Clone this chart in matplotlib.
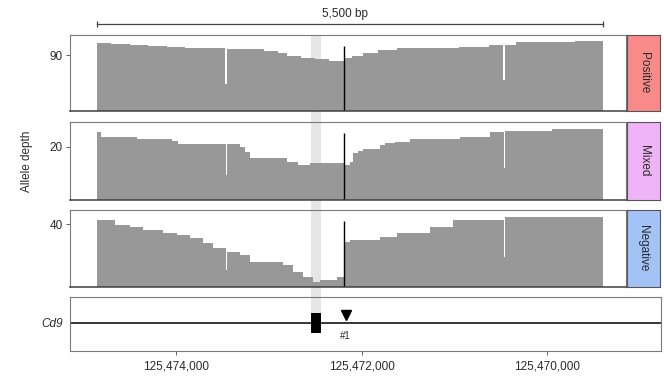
import matplotlib
matplotlib.use('Agg')
import matplotlib.pyplot as plt
from matplotlib.patches import Rectangle
from matplotlib.transforms import blended_transform_factory

plt.rcParams['font.family'] = ['Liberation Sans', 'DejaVu Sans']

# ---- data -------------------------------------------------------------
groups = ['Positive', 'Mixed', 'Negative']
strip_colors = ['#f88a8a', '#efb3f7', '#a3c3f7']
yticks = [90, 20, 40]
ytops = [122.2, 29.3, 49.1]

pos_positive = [125474850, 125474700, 125474500, 125474300, 125474100, 125473900,
                125473700, 125473470, 125473455, 125473250, 125473050, 125472900,
                125472800, 125472650, 125472500, 125472350, 125472190, 125472100,
                125471980, 125471820, 125471620, 125471300, 125470950, 125470620,
                125470470, 125470455, 125470330, 125469950, 125469700, 125469396]
depth_positive = [109, 107, 105.5, 104, 102.5, 101.5,
                  100.5, 43, 100, 99, 96, 93,
                  89, 86, 83, 80, 84.7, 89,
                  93, 97.5, 100.5, 101.8, 103.4, 105.5,
                  50, 106, 110.4, 111.4, 112, 112]

pos_mixed = [125474850, 125474810, 125474420, 125474040, 125473980, 125473465,
             125473450, 125473310, 125473255, 125473200, 125472800, 125472685,
             125472555, 125472340, 125472190, 125472125, 125472090, 125472040,
             125471985, 125471800, 125471745, 125471640, 125471475, 125470940,
             125470615, 125470465, 125470455, 125469945, 125469396]
depth_mixed = [25.6, 23.8, 22.8, 22.1, 21.0, 9.4,
               21.0, 20.0, 18.1, 15.9, 14.1, 13.1,
               14.0, 13.8, 13.1, 14.4, 17.5, 18.5,
               19.0, 20.6, 21.3, 21.9, 22.8, 23.8,
               25.6, 11.9, 26.0, 26.6, 26.6]

pos_negative = [125474850, 125474660, 125474495, 125474355, 125474140, 125473990,
                125473850, 125473710, 125473600, 125473465, 125473450, 125473310,
                125473200, 125472845, 125472740, 125472630, 125472525, 125472445,
                125472265, 125472190, 125472125, 125471800, 125471615, 125471260,
                125471015, 125470465, 125470455, 125470000, 125469396]
depth_negative = [42.7, 39.6, 38.5, 36.4, 34.3, 33.2,
                  31.1, 27.9, 24.7, 10.8, 22.5, 20.4,
                  16.1, 14.0, 9.8, 6.6, 3.4, 4.5,
                  6.4, 28.9, 30.0, 31.7, 34.3, 38.5,
                  42.7, 19.3, 44.5, 44.9, 44.9]

positions = [pos_positive, pos_mixed, pos_negative]
depths = [depth_positive, depth_mixed, depth_negative]

cut_site = 125472190
cut_heights = [105, 25, 42.3]

exon_start, exon_end = 125472540, 125472440
guide_pos = 125472172
guide_label = '#1'
gene_name = 'Cd9'
scale_label = '5,500 bp'

xticks = [125474000, 125472000, 125470000]
xtick_labels = ['125,474,000', '125,472,000', '125,470,000']
xlim = (125475143, 125469148)
xlim_gene = (125475143, 125468771)

# ---- layout helpers (pixels) -----------------------------------------
W, H = 664, 377
fig = plt.figure(figsize=(W / 100, H / 100), dpi=100)
fs = 8.5
txt = '#2a2a2a'


def box(x0, x1, y0, y1):
    return [x0 / W, 1 - y1 / H, (x1 - x0) / W, (y1 - y0) / H]


panel_y = [(35, 111), (122, 200), (210, 287)]
cov_color = '#989898'
edge = '#7a7a7a'

axes = []
for i, g in enumerate(groups):
    y0, y1 = panel_y[i]
    ax = fig.add_axes(box(70, 626, y0, y1))
    ax.patch.set_alpha(0)
    ax.fill_between(positions[i], depths[i], 0, step='post', color=cov_color, lw=0)
    ax.vlines(cut_site, 0, cut_heights[i], color='black', lw=1)
    ax.set_xlim(*xlim)
    ax.set_ylim(0, ytops[i])
    ax.set_yticks([yticks[i]])
    ax.set_xticks([])
    ax.tick_params(axis='y', length=3, width=0.6, color='#444444', labelsize=fs,
                   labelcolor=txt, pad=2)
    for s in ax.spines.values():
        s.set_color(edge)
        s.set_linewidth(0.8)
    ax.spines['bottom'].set_color('#404040')
    ax.spines['bottom'].set_linewidth(1.1)
    axes.append(ax)

    # facet strip
    sax = fig.add_axes(box(627, 660, y0, y1))
    sax.set_facecolor(strip_colors[i])
    sax.set_xticks([])
    sax.set_yticks([])
    for s in sax.spines.values():
        s.set_color('#555555')
        s.set_linewidth(0.8)
    sax.text(0.5, 0.5, g, rotation=270, ha='center', va='center', fontsize=fs,
             color=txt, transform=sax.transAxes)

fig.text(27 / W, 1 - 161 / H, 'Allele depth', rotation=90, ha='center',
         va='center', fontsize=fs, color=txt)

# scale bar across the covered region
bax = fig.add_axes(box(70, 626, 0, 34))
bax.axis('off')
bax.set_xlim(*xlim)
bax.set_ylim(34, 0)
x_start, x_end = pos_positive[0], pos_positive[-1]
bax.plot([x_start, x_end], [24, 24], color='#444444', lw=0.9)
bax.vlines([x_start, x_end], 21, 27, color='#444444', lw=0.9)
bax.text((x_start + x_end) / 2 + 60, 14, scale_label, ha='center', va='center',
         fontsize=fs, color=txt)

# gene track
gax = fig.add_axes(box(70, 661, 297, 351))
gax.patch.set_alpha(0)
gax.set_xlim(*xlim_gene)
gax.set_ylim(0, 1)
gax.axhline(0.52, color='black', lw=1.1)
gax.add_patch(Rectangle((exon_end, 0.333), exon_start - exon_end, 0.371,
                        facecolor='black', edgecolor='none', zorder=3))
gax.plot([guide_pos], [0.66], marker='v', color='black', markersize=7.5, lw=0)
gax.text(guide_pos, 0.27, guide_label, ha='center', va='center', fontsize=7,
         color=txt)
gax.set_xticks(xticks)
gax.set_xticklabels(xtick_labels)
gax.set_yticks([0.52])
gax.set_yticklabels([gene_name], style='italic')
gax.tick_params(axis='x', length=3, width=0.6, color='#444444', labelsize=fs,
                labelcolor=txt, pad=4)
gax.tick_params(axis='y', length=0, labelsize=fs, labelcolor=txt, pad=5)
for s in gax.spines.values():
    s.set_color(edge)
    s.set_linewidth(0.8)

# highlighted region running behind all panels down to the exon
tr = blended_transform_factory(axes[0].transData, fig.transFigure)
fig.patches.append(Rectangle((exon_start, 1 - 313 / H), exon_end - exon_start,
                             (313 - 35) / H, transform=tr, facecolor='#e6e6e6',
                             edgecolor='none', zorder=-1))

fig.savefig('out.png', dpi=100)
